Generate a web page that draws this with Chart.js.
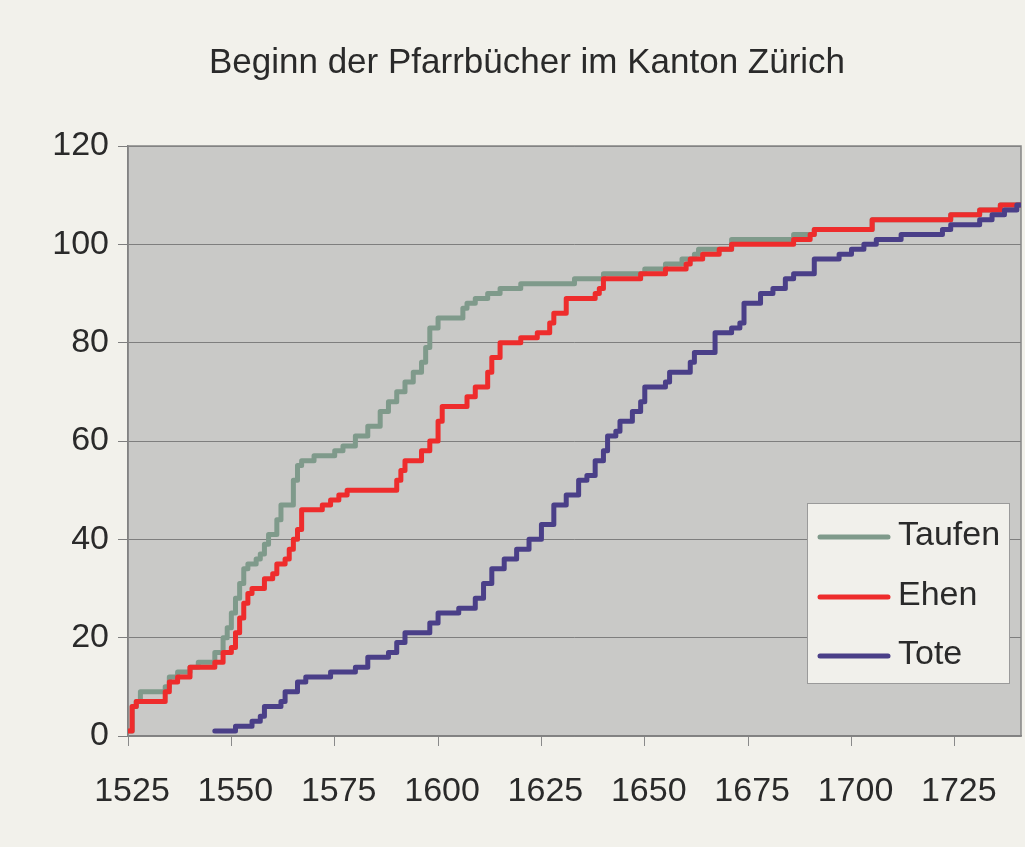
<!DOCTYPE html>
<html><head><meta charset="utf-8">
<script src="https://cdn.jsdelivr.net/npm/chart.js@4.4.1/dist/chart.umd.min.js"></script>
<style>html,body{margin:0;padding:0;background:#f2f1eb;}</style>
</head><body>
<canvas id="c" width="1025" height="847"></canvas>
<script>
const titleText = 'Beginn der Pfarrbücher im Kanton Zürich';
const seriesNames = ['Taufen', 'Ehen', 'Tote'];
const xTicks = [1525, 1550, 1575, 1600, 1625, 1650, 1675, 1700, 1725];
const yTicks = [0, 20, 40, 60, 80, 100, 120];

const taufenYears = [1525,1526,1527,1528,1534,1535,1537,1540,1542,1546,1548,1549,1550,1551,1552,1553,1554,1556,1557,1558,1559,1561,1562,1565,1566,1567,1570,1575,1577,1580,1583,1586,1588,1590,1592,1594,1596,1597,1598,1600,1606,1607,1609,1612,1615,1620,1633,1640,1650,1655,1659,1662,1663,1671,1686,1691,1705,1724,1731,1736,1741];
const taufenValues = [1,6,7,9,10,12,13,14,15,17,20,22,25,28,31,34,35,36,37,39,41,44,47,52,55,56,57,58,59,61,63,66,68,70,72,74,76,79,83,85,87,88,89,90,91,92,93,94,95,96,97,98,99,101,102,103,105,106,107,108,108];

const ehenYears = [1525,1526,1527,1534,1535,1537,1540,1546,1548,1550,1551,1552,1553,1554,1555,1558,1560,1561,1563,1564,1565,1566,1567,1572,1574,1576,1578,1590,1591,1592,1596,1598,1600,1601,1607,1609,1612,1613,1615,1620,1624,1627,1628,1631,1638,1639,1640,1649,1655,1660,1661,1664,1668,1671,1686,1690,1691,1705,1724,1731,1736,1741];
const ehenValues = [1,6,7,9,11,12,14,15,17,18,21,24,27,29,30,32,33,35,36,38,40,42,46,47,48,49,50,52,54,56,58,60,64,67,69,71,74,77,80,81,82,84,86,89,90,91,93,94,95,96,97,98,99,100,101,102,103,105,106,107,108,108];

const toteYears = [1546,1551,1555,1557,1558,1562,1563,1566,1568,1574,1580,1583,1588,1590,1592,1598,1600,1605,1609,1611,1613,1616,1619,1622,1625,1628,1631,1634,1636,1638,1640,1641,1643,1644,1647,1649,1650,1655,1656,1661,1662,1667,1671,1673,1674,1678,1681,1684,1686,1691,1697,1700,1703,1706,1712,1722,1724,1731,1734,1737,1740,1741];
const toteValues = [1,2,3,4,6,7,9,11,12,13,14,16,17,19,21,23,25,26,28,31,34,36,38,40,43,47,49,52,53,56,58,61,62,64,66,68,71,72,74,76,78,82,83,84,88,90,91,93,94,97,98,99,100,101,102,103,104,105,106,107,108,108];

const colors = ['#7f9a8b', '#ee2c2c', '#4a3f88'];
const FONT = "'Liberation Sans', Arial, sans-serif";
const TEXT = '#2a2a2a';

function pts(xs, ys) { return xs.map((x, i) => ({ x: x, y: ys[i] })); }

const bgPlugin = {
  id: 'bg',
  beforeDraw(chart) {
    const c = chart.ctx, a = chart.chartArea;
    c.save();
    c.fillStyle = '#f2f1eb';
    c.fillRect(0, 0, chart.width, chart.height);
    c.fillStyle = '#c9c9c7';
    c.fillRect(a.left, a.top, a.right - a.left, a.bottom - a.top);
    c.restore();
  },
  beforeDatasetsDraw(chart) {
    const c = chart.ctx, a = chart.chartArea;
    c.save();
    c.strokeStyle = '#858585';
    c.lineWidth = 1.5;
    c.strokeRect(a.left, a.top, a.right - a.left, a.bottom - a.top);
    c.restore();
  },
  afterDraw(chart) {
    const c = chart.ctx;
    c.save();
    c.fillStyle = TEXT;
    c.font = '35px ' + FONT;
    c.textAlign = 'center';
    c.textBaseline = 'alphabetic';
    c.fillText(titleText, 527, 73);
    // legend
    const bx = 807, by = 503, bw = 202, bh = 180;
    c.fillStyle = '#f1f0eb';
    c.fillRect(bx, by, bw, bh);
    c.strokeStyle = '#9a9a9a';
    c.lineWidth = 1;
    c.strokeRect(bx + 0.5, by + 0.5, bw, bh);
    const lineY = [537, 597, 656];
    const baseY = [545, 605, 664];
    chart.data.datasets.forEach((ds, i) => {
      c.strokeStyle = ds.borderColor;
      c.lineWidth = 5;
      c.lineCap = 'round';
      c.beginPath();
      c.moveTo(820, lineY[i]);
      c.lineTo(888, lineY[i]);
      c.stroke();
      c.fillStyle = TEXT;
      c.textAlign = 'left';
      c.font = '34px ' + FONT;
      c.fillText(ds.label, 898, baseY[i]);
    });
    c.restore();
  }
};

const common = { borderWidth: 5, pointRadius: 0, stepped: true, fill: false, borderJoinStyle: 'round', borderCapStyle: 'round' };

new Chart(document.getElementById('c'), {
  type: 'line',
  data: {
    datasets: [
      Object.assign({ label: seriesNames[0], data: pts(taufenYears, taufenValues), borderColor: colors[0], order: 3 }, common),
      Object.assign({ label: seriesNames[1], data: pts(ehenYears, ehenValues), borderColor: colors[1], order: 2 }, common),
      Object.assign({ label: seriesNames[2], data: pts(toteYears, toteValues), borderColor: colors[2], order: 1 }, common)
    ]
  },
  options: {
    responsive: false,
    animation: false,
    devicePixelRatio: 1,
    layout: { padding: { top: 146, right: 4, bottom: 0, left: 0 } },
    plugins: { legend: { display: false }, title: { display: false }, tooltip: { enabled: false } },
    scales: {
      x: {
        type: 'linear', min: 1525, max: 1741,
        afterBuildTicks: s => { s.ticks = xTicks.map(v => ({ value: v })); },
        afterFit: s => { s.height = 111; },
        ticks: { callback: v => String(v), font: { family: FONT, size: 34 }, color: TEXT, padding: 25, labelOffset: 4, maxRotation: 0, autoSkip: false },
        grid: { drawOnChartArea: false, drawTicks: true, tickLength: 10, color: '#8a8a8a' },
        border: { color: '#7a7a7a', width: 1.5 }
      },
      y: {
        min: 0, max: 120,
        afterBuildTicks: s => { s.ticks = yTicks.map(v => ({ value: v })); },
        afterFit: s => { s.width = 128; },
        ticks: { callback: v => String(v), font: { family: FONT, size: 34 }, color: TEXT, padding: 9 },
        grid: { color: '#7e7e7e', lineWidth: 1, tickLength: 10 },
        border: { color: '#7a7a7a', width: 1.5 }
      }
    }
  },
  plugins: [bgPlugin]
});
</script>
</body></html>
